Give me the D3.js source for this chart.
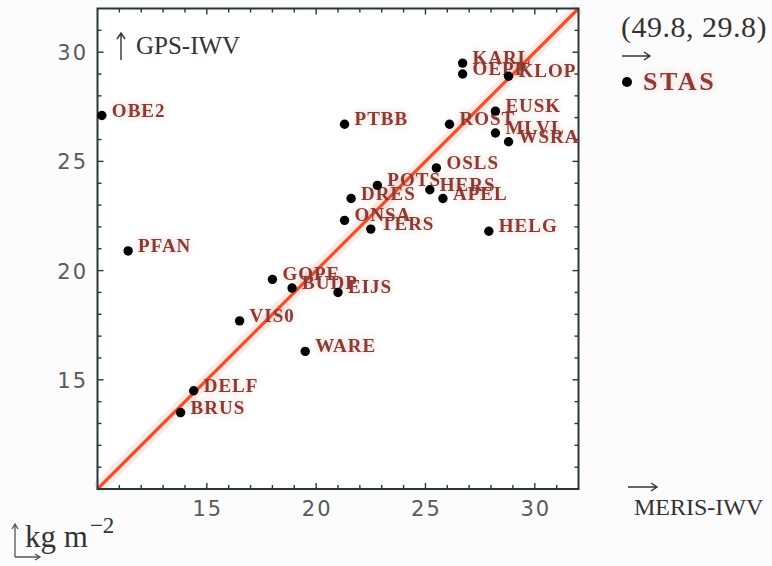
<!DOCTYPE html>
<html>
<head>
<meta charset="utf-8">
<script src="https://cdn.jsdelivr.net/npm/d3@7"></script>
<style>
  body { margin: 0; background: #fcfcfd; }
  svg { display: block; }
  .tick-label { font-family: 'DejaVu Sans', sans-serif; font-size: 21px; fill: #5a5a5a; letter-spacing: 2px; }
  .axis-title { font-family: 'Liberation Serif', serif; font-size: 24px; fill: #333; }
  .station { font-family: 'Liberation Serif', serif; font-weight: bold; font-size: 19px; fill: #8b3b32; letter-spacing: 1px; }
</style>
</head>
<body>
<svg id="chart"></svg>
<script>
// station names, MERIS IWV (x) and GPS IWV (y), kg m^-2
const stations = ['OBE2', 'PTBB', 'KARL', 'OEPP', 'KLOP', 'EUSK', 'ROST', 'MLVL', 'WSRA', 'OSLS',
                  'POTS', 'HERS', 'APEL', 'DRES', 'ONSA', 'TERS', 'HELG', 'EIJS', 'PFAN', 'GOPE',
                  'BUDP', 'VIS0', 'WARE', 'DELF', 'BRUS'];
const merisIWV = [10.2, 21.3, 26.7, 26.7, 28.8, 28.2, 26.1, 28.2, 28.8, 25.5,
                  22.8, 25.2, 25.8, 21.6, 21.3, 22.5, 27.9, 21.0, 11.4, 18.0,
                  18.9, 16.5, 19.5, 14.4, 13.8];
const gpsIWV   = [27.1, 26.7, 29.5, 29.0, 28.9, 27.3, 26.7, 26.3, 25.9, 24.7,
                  23.9, 23.7, 23.3, 23.3, 22.3, 21.9, 21.8, 19.0, 20.9, 19.6,
                  19.2, 17.7, 16.3, 14.5, 13.5];

// off-scale station, noted in the margin
const outlierName = 'STAS';
const outlierX = 49.8;
const outlierY = 29.8;

const domain = [10, 32];
const tickValues = [15, 20, 25, 30];

const width = 772, height = 566;
const svg = d3.select('#chart').attr('width', width).attr('height', height);

const defs = svg.append('defs');
const glow = defs.append('filter').attr('id', 'glow')
    .attr('x', '-20%').attr('y', '-50%').attr('width', '140%').attr('height', '200%');
glow.append('feGaussianBlur').attr('in', 'SourceGraphic').attr('stdDeviation', 3).attr('result', 'b');
glow.append('feComponentTransfer').attr('in', 'b').attr('result', 'bf')
  .append('feFuncA').attr('type', 'linear').attr('slope', 0.3);
const merge = glow.append('feMerge');
merge.append('feMergeNode').attr('in', 'bf');
merge.append('feMergeNode').attr('in', 'SourceGraphic');

const x = d3.scaleLinear().domain(domain).range([97.5, 578.5]);
const y = d3.scaleLinear().domain(domain).range([489, 8.5]);

// plot area
svg.append('rect')
    .attr('x', x(domain[0])).attr('y', y(domain[1]))
    .attr('width', x(domain[1]) - x(domain[0]))
    .attr('height', y(domain[0]) - y(domain[1]))
    .attr('fill', '#fff');

// 1:1 line
const diag = svg.append('g');
diag.append('line')
    .attr('x1', x(domain[0])).attr('y1', y(domain[0]))
    .attr('x2', x(domain[1])).attr('y2', y(domain[1]))
    .attr('stroke', 'rgba(245,140,110,0.18)').attr('stroke-width', 12);
diag.append('line')
    .attr('x1', x(domain[0])).attr('y1', y(domain[0]))
    .attr('x2', x(domain[1])).attr('y2', y(domain[1]))
    .attr('stroke', '#f0502c').attr('stroke-width', 3.2);

// frame ticks: every unit, longer every 5
const minor = d3.range(11, 32);
const tickLen = v => (v % 5 === 0 ? 6 : 4);
const frame = svg.append('g').attr('stroke', '#26363a').attr('stroke-width', 1.4);
minor.forEach(v => {
  frame.append('line').attr('x1', x(v)).attr('x2', x(v)).attr('y1', y(10)).attr('y2', y(10) - tickLen(v));
  frame.append('line').attr('x1', x(v)).attr('x2', x(v)).attr('y1', y(32)).attr('y2', y(32) + tickLen(v));
  frame.append('line').attr('y1', y(v)).attr('y2', y(v)).attr('x1', x(10)).attr('x2', x(10) + tickLen(v));
  frame.append('line').attr('y1', y(v)).attr('y2', y(v)).attr('x1', x(32)).attr('x2', x(32) - tickLen(v));
});
svg.append('rect')
    .attr('x', x(domain[0])).attr('y', y(domain[1]))
    .attr('width', x(domain[1]) - x(domain[0]))
    .attr('height', y(domain[0]) - y(domain[1]))
    .attr('fill', 'none').attr('stroke', '#26363a').attr('stroke-width', 2);

// tick labels
svg.selectAll('.xlab').data(tickValues).join('text')
    .attr('class', 'tick-label xlab')
    .attr('x', d => x(d) + 1).attr('y', 516)
    .attr('text-anchor', 'middle')
    .text(d => d);
svg.selectAll('.ylab').data(tickValues).join('text')
    .attr('class', 'tick-label ylab')
    .attr('x', 88).attr('y', d => y(d) + 8)
    .attr('text-anchor', 'end')
    .text(d => d);

// points and station labels
const data = stations.map((s, i) => ({ name: s, meris: merisIWV[i], gps: gpsIWV[i] }));

svg.append('g').selectAll('text').data(data).join('text')
    .attr('class', 'station')
    .attr('x', d => x(d.meris) + 10)
    .attr('y', d => y(d.gps) + 1)
    .attr('filter', 'url(#glow)')
    .text(d => d.name);

svg.append('g').selectAll('circle').data(data).join('circle')
    .attr('cx', d => x(d.meris))
    .attr('cy', d => y(d.gps))
    .attr('r', 4.7)
    .attr('fill', '#000');

// axis names
const arrows = svg.append('g').attr('stroke', '#333').attr('stroke-width', 1.4).attr('fill', 'none');
arrows.append('path').attr('d', 'M121,60 L121,34 M117,39 L121,33 L125,39');
svg.append('text').attr('class', 'axis-title')
    .attr('x', 136).attr('y', 54).style('font-size', '25px').text('GPS-IWV');

arrows.append('path').attr('d', 'M628,487 L656,487 M651,483 L657,487 L651,491');
svg.append('text').attr('class', 'axis-title')
    .attr('x', 634).attr('y', 515).text('MERIS-IWV');

// off-scale station
svg.append('text').attr('class', 'axis-title')
    .attr('x', 621).attr('y', 37).style('font-size', '30px').style('letter-spacing', '0.5px')
    .text(`(${outlierX}, ${outlierY})`);
arrows.append('path').attr('d', 'M622,56 L649,56 M644,52 L650,56 L644,60');
svg.append('circle').attr('cx', 627).attr('cy', 82).attr('r', 5).attr('fill', '#000');
svg.append('text').attr('class', 'station')
    .attr('x', 643).attr('y', 90)
    .style('font-size', '26px').style('letter-spacing', '2.5px')
    .attr('filter', 'url(#glow)')
    .text(outlierName);

// units, bottom left
const unit = svg.append('text').attr('class', 'axis-title')
    .attr('x', 25).attr('y', 547).style('font-size', '31px');
unit.append('tspan').text('kg m');
unit.append('tspan').attr('dy', -14).attr('dx', 2).style('font-size', '23px').text('\u22122');

const corner = svg.append('g').attr('stroke', '#555').attr('stroke-width', 1.3).attr('fill', 'none');
corner.append('path').attr('d', 'M15,557 L15,525 M12,529 L15,524 L18,529');
corner.append('path').attr('d', 'M15,557 L39,557 M35,554 L40,557 L35,560');
</script>
</body>
</html>
